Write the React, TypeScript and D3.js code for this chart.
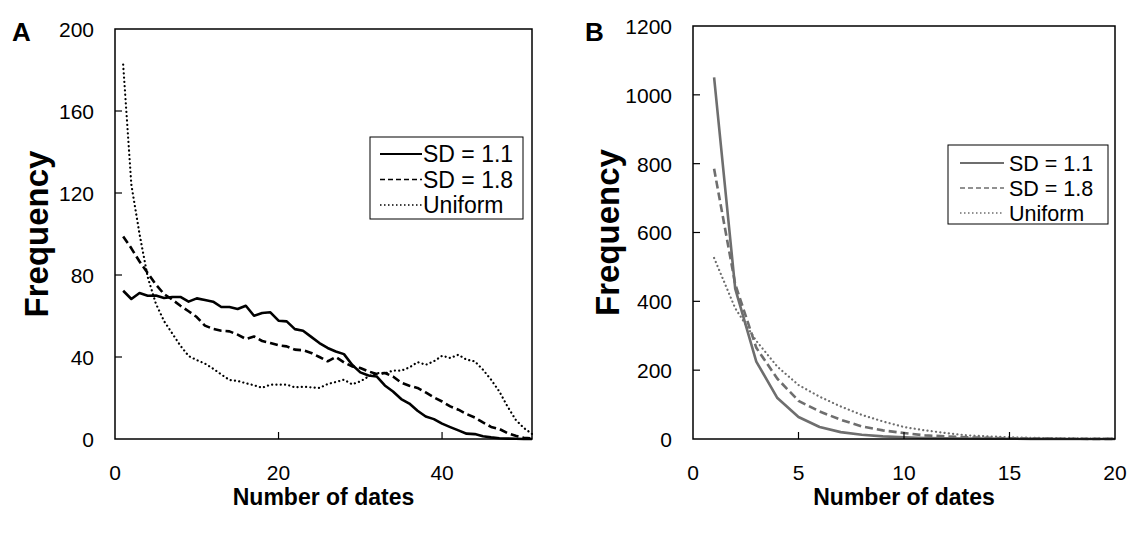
import React from "react";
import * as d3 from "d3";

// Panel A data: number of dates 1..51
const datesA = d3.range(1, 52);
const sd11A = [72.3, 68.3, 71.2, 69.9, 70, 68.8, 69.3, 69.3, 67, 68.6, 67.8, 67, 64.4, 64.4, 63.4, 65, 60.1, 61.5, 61.8, 57.7, 57.4, 53.6, 52.8, 49.8, 46.8, 44.4, 42.7, 41.4, 36.2, 32.5, 31, 30.5, 26.1, 23.2, 19.5, 17.3, 13.8, 11, 9.7, 7.5, 5.8, 4.2, 2.6, 2.4, 1.3, 0.8, 0.4, 0.2, 0.1, 0, 0];
const sd18A = [98.8, 93, 86.6, 81, 75.3, 70.7, 68, 65, 62.3, 59.5, 55.3, 53.7, 52.8, 52.5, 50.9, 48.8, 50, 47.8, 46.8, 45.7, 45.2, 43.6, 43.3, 42, 40, 37.9, 40, 37.4, 35.4, 34.6, 33, 31.7, 32.2, 30.5, 27.5, 26, 24.9, 22.7, 20.3, 18.3, 15.9, 14.3, 12.2, 10.5, 8.1, 5.9, 4.9, 2.9, 1.6, 0.6, 0.2];
const uniformA = [182.6, 124, 100, 79, 66, 57.5, 51.5, 45.5, 40.5, 38.5, 36.8, 34.3, 31.5, 28.8, 28.3, 27.2, 26.2, 25, 26.5, 26.5, 26.5, 25.2, 25.5, 25.2, 24.9, 26.8, 27.8, 28.9, 26.7, 28.1, 30.5, 32.2, 31.9, 33.4, 33.3, 34.9, 37.5, 36.2, 37.9, 40.6, 39.5, 41.1, 38.7, 37.9, 33.8, 28.9, 23.2, 15.9, 9.4, 5.4, 2.5];
const xTicksA = [0, 20, 40];
const yTicksA = [0, 40, 80, 120, 160, 200];

// Panel B data: number of dates 1..20
const datesB = d3.range(1, 21);
const sd11B = [1051, 437, 225, 119, 64, 35, 20, 12.5, 7.6, 5, 3, 2, 1.3, 1, 0.6, 0.4, 0.3, 0.2, 0.1, 0.1];
const sd18B = [785, 450, 265, 175, 111, 80, 56, 36.5, 25, 17.4, 10.5, 7.6, 5, 3.2, 2, 1.5, 1, 0.6, 0.4, 0.2];
const uniformB = [526, 380, 285, 210, 157, 123, 94.5, 70, 51, 34.8, 25, 17.4, 10.5, 7.6, 5, 3.5, 2.5, 1.7, 1.2, 0.8];
const xTicksB = [0, 5, 10, 15, 20];
const yTicksB = [0, 200, 400, 600, 800, 1000, 1200];

const seriesNames = ["SD = 1.1", "SD = 1.8", "Uniform"];

const FONT = "'Liberation Sans', Arial, sans-serif";

type PanelProps = {
  letter: string;
  x0: number; x1: number; y0: number; y1: number;
  xMax: number; yMax: number;
  xTicks: number[]; yTicks: number[];
  xs: number[];
  series: number[][];
  color: string;
  widths: number[];
  dashes: (string | undefined)[];
  legendDashes: (string | undefined)[];
  legend: { x: number; y: number; w: number; h: number; lx0: number; lx1: number; tx: number; fs: number; row: number; first: number };
  letterX: number;
  ylabelX: number;
};

function Panel(p: PanelProps) {
  const x = d3.scaleLinear().domain([0, p.xMax]).range([p.x0, p.x1]);
  const y = d3.scaleLinear().domain([0, p.yMax]).range([p.y1, p.y0]);
  const line = d3.line<[number, number]>().x(d => x(d[0])).y(d => y(d[1]));
  return (
    <g>
      <text x={p.letterX} y={41} fontFamily={FONT} fontWeight="bold" fontSize={26}>{p.letter}</text>
      {p.series.map((s, i) => (
        <path key={i} d={line(p.xs.map((v, j) => [v, s[j]] as [number, number])) || ""}
          fill="none" stroke={p.color} strokeWidth={p.widths[i]}
          strokeDasharray={p.dashes[i]} strokeLinecap={i === 2 ? "round" : "butt"} strokeLinejoin="round" />
      ))}
      <rect x={p.x0} y={p.y0} width={p.x1 - p.x0} height={p.y1 - p.y0} fill="none" stroke="#000" strokeWidth={1.5} />
      {p.yTicks.map(t => (
        <g key={"y" + t}>
          {t > 0 && t < p.yMax && <line x1={p.x0} x2={p.x0 + 7} y1={y(t)} y2={y(t)} stroke="#000" strokeWidth={1.2} />}
          <text x={p.x0 - 21} y={y(t)} dy="0.38em" textAnchor="end" fontFamily={FONT} fontSize={21}>{t}</text>
        </g>
      ))}
      {p.xTicks.map(t => (
        <g key={"x" + t}>
          {t > 0 && t < p.xMax && <line x1={x(t)} x2={x(t)} y1={p.y1} y2={p.y1 - 7} stroke="#000" strokeWidth={1.2} />}
          <text x={x(t)} y={p.y1 + 41} textAnchor="middle" fontFamily={FONT} fontSize={21}>{t}</text>
        </g>
      ))}
      <text x={(p.x0 + p.x1) / 2} y={p.y1 + 66} textAnchor="middle" fontFamily={FONT} fontWeight="bold" fontSize={23}>Number of dates</text>
      <text transform={`translate(${p.ylabelX},${(p.y0 + p.y1) / 2}) rotate(-90)`} textAnchor="middle" fontFamily={FONT} fontWeight="bold" fontSize={33}>Frequency</text>
      <rect x={p.legend.x} y={p.legend.y} width={p.legend.w} height={p.legend.h} fill="#fff" stroke="#000" strokeWidth={1} />
      {seriesNames.map((n, i) => {
        const cy = p.legend.y + p.legend.first + p.legend.row * i;
        return (
          <g key={n}>
            <line x1={p.legend.lx0} x2={p.legend.lx1} y1={cy} y2={cy} stroke={p.color}
              strokeWidth={i === 0 ? 2 : 1.6} strokeDasharray={p.legendDashes[i]} />
            <text x={p.legend.tx} y={cy} dy="0.36em" fontFamily={FONT} fontSize={p.legend.fs}>{n}</text>
          </g>
        );
      })}
    </g>
  );
}

export default function App() {
  return (
    <svg width={1133} height={536} style={{ position: "absolute", left: 0, top: 0, background: "#fff" }}>
      <Panel letter="A" x0={115} x1={532} y0={29} y1={439} xMax={51} yMax={200}
        xTicks={xTicksA} yTicks={yTicksA} xs={datesA} series={[sd11A, sd18A, uniformA]}
        color="#000" widths={[2.6, 2.6, 2.2]} dashes={[undefined, "8,4", "0.1,4.2"]}
        legendDashes={[undefined, "5,3", "1.5,2.5"]}
        legend={{ x: 370, y: 137, w: 153, h: 82, lx0: 380, lx1: 422, tx: 423, fs: 23, row: 25.5, first: 17 }}
        letterX={12} ylabelX={48} />
      <Panel letter="B" x0={693} x1={1115} y0={26} y1={439} xMax={20} yMax={1200}
        xTicks={xTicksB} yTicks={yTicksB} xs={datesB} series={[sd11B, sd18B, uniformB]}
        color="#6e6e6e" widths={[2.6, 2.6, 2.2]} dashes={[undefined, "8,4", "0.1,4.2"]}
        legendDashes={[undefined, "5,3", "1.5,2.5"]}
        legend={{ x: 948, y: 145, w: 160, h: 79, lx0: 960, lx1: 1004, tx: 1009, fs: 21.5, row: 25, first: 18 }}
        letterX={585} ylabelX={619} />
    </svg>
  );
}
